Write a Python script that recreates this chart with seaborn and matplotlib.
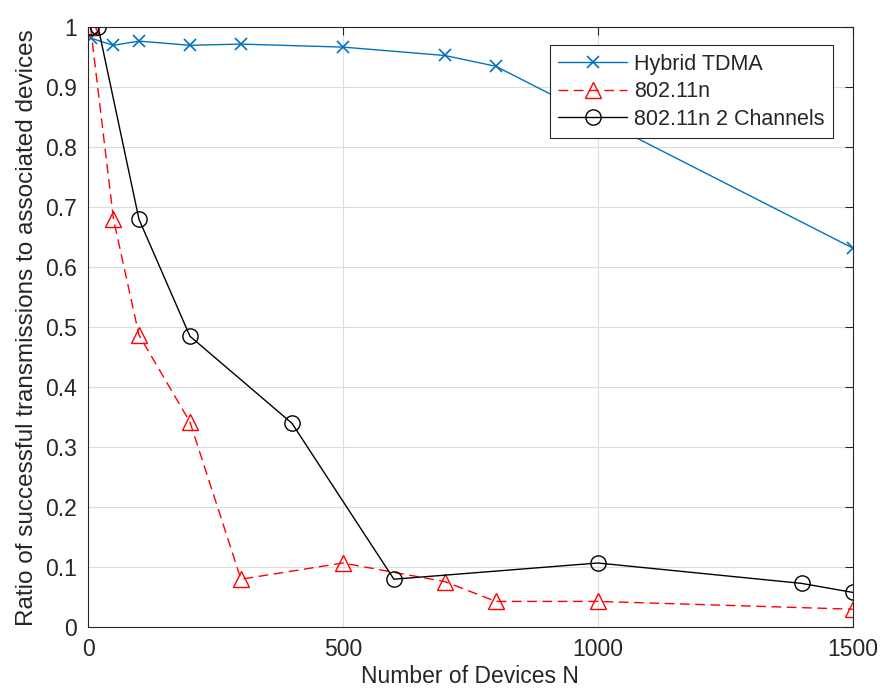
import matplotlib
matplotlib.use("Agg")
import matplotlib.pyplot as plt
import seaborn as sns
import pandas as pd

sns.set_theme(style="white")
plt.rcParams['font.family'] = ['Liberation Sans', 'DejaVu Sans']

tdma_n = [5, 50, 100, 200, 300, 500, 700, 800, 1500]
tdma_r = [0.982, 0.970, 0.977, 0.970, 0.972, 0.967, 0.953, 0.935, 0.632]

wifi_n = [5, 50, 100, 200, 300, 500, 700, 800, 1000, 1500]
wifi_r = [1.0, 0.68, 0.487, 0.342, 0.080, 0.107, 0.076, 0.043, 0.043, 0.030]

wifi2_n = [5, 20, 100, 200, 400, 600, 1000, 1400, 1500]
wifi2_r = [1.0, 1.0, 0.68, 0.485, 0.340, 0.080, 0.107, 0.073, 0.058]

series_names = ["Hybrid TDMA", "802.11n", "802.11n 2 Channels"]
x_ticks = [0, 500, 1000, 1500]
y_ticks = [0, 0.1, 0.2, 0.3, 0.4, 0.5, 0.6, 0.7, 0.8, 0.9, 1.0]
y_tick_labels = ["0", "0.1", "0.2", "0.3", "0.4", "0.5", "0.6", "0.7", "0.8", "0.9", "1"]

fig = plt.figure(figsize=(8.8, 7), dpi=100)
ax = fig.add_axes([0.1, 0.104, 0.869, 0.857])

df1 = pd.DataFrame({"N": tdma_n, "r": tdma_r})
df2 = pd.DataFrame({"N": wifi_n, "r": wifi_r})
df3 = pd.DataFrame({"N": wifi2_n, "r": wifi2_r})

blue = "#0072BD"
sns.lineplot(data=df1, x="N", y="r", ax=ax, color=blue, marker="x",
             markersize=8, markeredgecolor=blue, markeredgewidth=1.2,
             linewidth=1.0, label=series_names[0])
sns.lineplot(data=df2, x="N", y="r", ax=ax, color="#FF0000", marker="^",
             markersize=12, markerfacecolor="none", markeredgecolor="#FF0000",
             markeredgewidth=1.0, linewidth=1.0, label=series_names[1])
ax.lines[-1].set_linestyle((0, (7, 4)))
sns.lineplot(data=df3, x="N", y="r", ax=ax, color="black", marker="o",
             markersize=11, markerfacecolor="none", markeredgecolor="black",
             markeredgewidth=1.0, linewidth=1.0, label=series_names[2])

ax.set_xlim(0, 1500)
ax.set_ylim(0, 1)
ax.set_xticks(x_ticks)
ax.set_xticklabels([str(t) for t in x_ticks])
ax.set_yticks(y_ticks)
ax.set_yticklabels(y_tick_labels)
ax.grid(True, color="#DCDCDC", linewidth=0.8)
ax.set_axisbelow(True)
txt = "#262626"
for s in ax.spines.values():
    s.set_color(txt)
    s.set_linewidth(0.8)
ax.tick_params(axis="both", direction="in", top=True, right=True, length=6,
               width=0.8, color=txt, labelsize=16.5, labelcolor=txt, pad=8)
ax.set_xlabel("Number of Devices N", fontsize=16.5, color=txt, labelpad=3)
ax.set_ylabel("Ratio of successful transmissions to associated devices", fontsize=17.5,
              color=txt, labelpad=5)

leg = ax.legend(loc="upper right", bbox_to_anchor=(0.974, 0.97), borderaxespad=0,
                fontsize=15.5, handlelength=3.2, frameon=True, fancybox=False,
                borderpad=0.4, labelspacing=0.3, handletextpad=0.3)
leg.get_frame().set_edgecolor(txt)
leg.get_frame().set_linewidth(0.8)
leg.get_frame().set_alpha(1)
for t in leg.get_texts():
    t.set_color(txt)

fig.savefig("out.png", dpi=100)
